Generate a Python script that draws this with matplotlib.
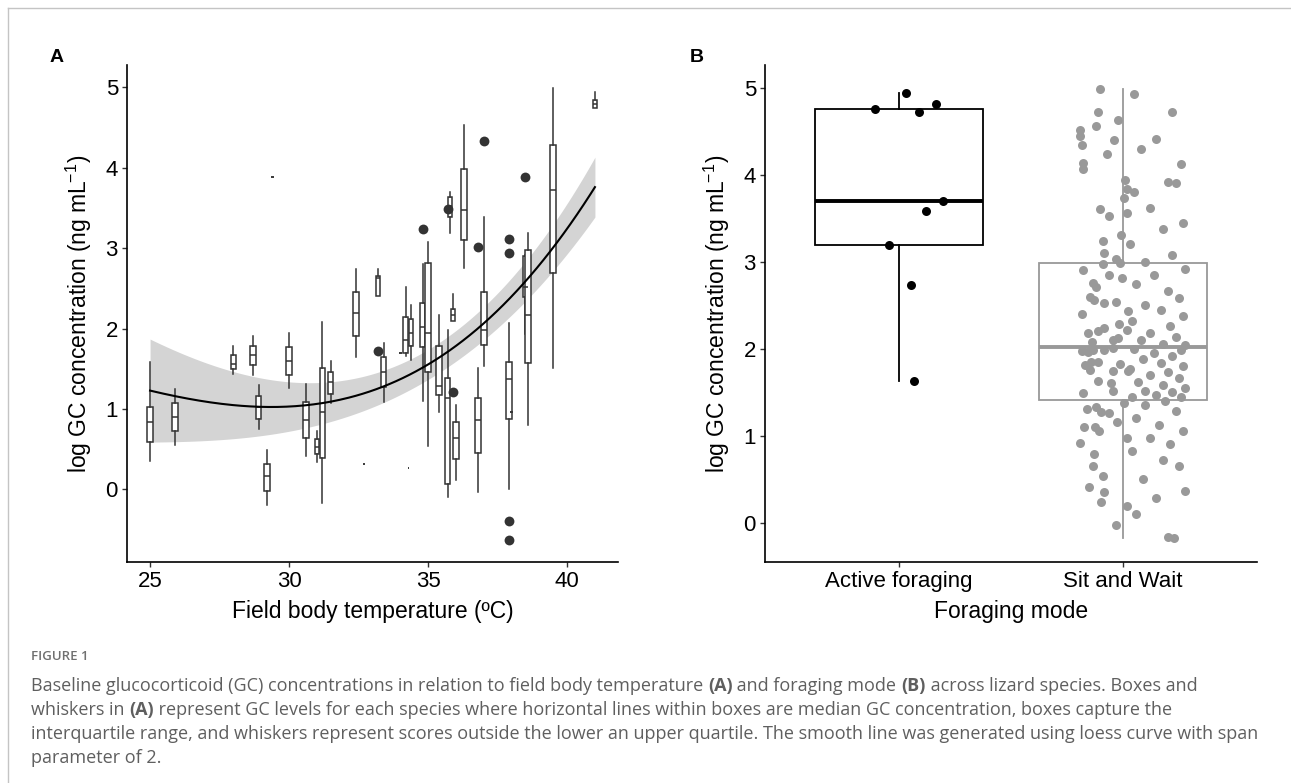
"""
Figure 1: GC concentration vs field body temperature (A) and foraging mode (B).
Output: out.png
"""
import numpy as np
import matplotlib
matplotlib.use("Agg")
import matplotlib.pyplot as plt
from matplotlib.lines import Line2D

plt.rcParams["font.family"] = ["Liberation Sans", "DejaVu Sans"]
plt.rcParams["mathtext.fontset"] = "custom"
plt.rcParams["mathtext.rm"] = "Liberation Sans"
plt.rcParams["mathtext.it"] = "Liberation Sans:italic"

# ---- panel A: one box per species ----
temp = [25.0, 25.9, 28.0, 28.7, 28.9, 29.2, 29.4, 30.0, 30.6, 31.0, 31.2, 31.5,
        32.4, 32.7, 33.2, 33.4, 34.0, 34.2, 34.3, 34.4, 34.8, 35.0, 35.4, 35.7,
        35.8, 35.9, 36.0, 36.3, 36.8, 37.0, 37.9, 38.0, 38.5, 38.6, 39.5, 41.0]
whis_lo = [0.35, 0.55, 1.44, 1.42, 0.75, -0.19, 3.88, 1.26, 0.41, 0.34, -0.17, 1.07,
           1.64, 0.31, 2.40, 1.09, 1.70, 1.66, 0.27, 1.61, 1.10, 0.54, 0.96, -0.10,
           3.19, 2.09, 0.12, 2.75, -0.04, 1.54, 0.00, 0.96, 1.93, 0.80, 1.51, 4.74]
q1 = [0.59, 0.73, 1.50, 1.55, 0.88, -0.02, 3.88, 1.42, 0.64, 0.44, 0.39, 1.19,
      1.91, 0.31, 2.40, 1.27, 1.70, 1.69, 0.27, 1.78, 1.77, 1.46, 1.17, 0.06,
      3.39, 2.09, 0.38, 3.10, 0.45, 1.80, 0.87, 0.96, 2.39, 1.57, 2.69, 4.74]
med = [0.84, 0.90, 1.56, 1.67, 1.03, 0.16, 3.88, 1.60, 0.86, 0.53, 0.96, 1.33,
       2.19, 0.31, 2.63, 1.46, 1.70, 1.86, 0.27, 1.95, 2.02, 1.94, 1.29, 1.13,
       3.52, 2.17, 0.64, 3.47, 0.86, 1.98, 1.37, 0.96, 2.52, 2.17, 3.72, 4.80]
q3 = [1.03, 1.07, 1.67, 1.78, 1.16, 0.32, 3.88, 1.77, 1.08, 0.63, 1.51, 1.46,
      2.46, 0.31, 2.65, 1.64, 1.70, 2.14, 0.27, 2.12, 2.32, 2.82, 1.78, 1.39,
      3.64, 2.24, 0.84, 3.99, 1.13, 2.45, 1.58, 0.96, 2.90, 2.98, 4.28, 4.85]
whis_hi = [1.58, 1.25, 1.78, 1.91, 1.30, 0.49, 3.88, 1.94, 1.31, 0.73, 2.08, 1.60,
           2.74, 0.31, 2.74, 1.82, 1.70, 2.52, 0.27, 2.29, 2.80, 3.08, 2.17, 1.98,
           3.70, 2.43, 1.05, 4.53, 1.51, 3.39, 2.07, 0.96, 2.92, 3.19, 4.99, 4.94]
box_w = [0.22, 0.20, 0.18, 0.20, 0.18, 0.20, 0.10, 0.20, 0.20, 0.16, 0.20, 0.18,
         0.20, 0.08, 0.17, 0.20, 0.10, 0.18, 0.06, 0.14, 0.20, 0.20, 0.20, 0.20,
         0.14, 0.13, 0.20, 0.20, 0.20, 0.22, 0.22, 0.08, 0.18, 0.20, 0.20, 0.12]

out_x = [33.2, 34.8, 35.7, 35.9, 37.0, 36.8, 37.9, 37.9, 37.9, 37.9, 38.5]
out_y = [1.72, 3.24, 3.49, 1.21, 4.34, 3.02, 3.12, 2.94, -0.40, -0.63, 3.88]

# loess smooth and its standard error, read at a few temperatures
fit_x = [25.0, 27.0, 29.3, 30.7, 31.5, 33.4, 34.0, 34.95, 35.67, 37.0, 37.8, 38.65, 39.55, 41.0]
fit_y = [1.22, 1.11, 1.02, 1.03, 1.09, 1.29, 1.38, 1.56, 1.69, 2.05, 2.30, 2.65, 3.08, 3.74]
se_x = [25.0, 26.3, 27.5, 29.9, 31.5, 33.9, 35.6, 37.0, 38.7, 41.0]
se_y = [0.65, 0.54, 0.43, 0.30, 0.25, 0.23, 0.19, 0.20, 0.22, 0.39]

# ---- panel B: jittered observations per foraging mode ----
modes = ["Active foraging", "Sit and Wait"]
active_gc = [4.75, 4.94, 4.72, 4.81, 3.70, 3.58, 3.19, 2.73, 1.63]
active_jit = [-0.107, 0.031, 0.089, 0.165, 0.197, 0.121, -0.045, 0.054, 0.067]
sit_gc = [4.99, 4.72, 4.56, 4.63, 4.51, 4.44, 4.34, 4.40, 4.24, 4.13, 4.07, 3.94,
          3.84, 3.73, 3.56, 3.60, 3.52, 3.31, 3.24, 3.10, 3.03, 2.99, 2.97, 2.90,
          2.85, 2.81, 2.76, 2.71, 2.60, 2.56, 2.52, 2.54, 2.43, 2.40, 2.29, 2.22,
          2.20, 2.24, 2.18, 2.10, 2.12, 2.08, 1.97, 1.96, 1.99, 1.99, 2.01, 1.81,
          1.85, 1.85, 1.76, 1.83, 1.74, 1.74, 1.63, 1.61, 1.51, 1.49, 1.38, 1.31,
          1.33, 1.27, 1.26, 1.16, 1.10, 1.10, 1.05, 0.92, 0.97, 0.79, 0.65, 0.54,
          0.41, 0.35, 0.24, 0.19, -0.03,
          4.93, 4.72, 4.41, 4.30, 4.12, 3.92, 3.90, 3.80, 3.62, 3.45, 3.38, 3.20,
          3.08, 3.00, 2.92, 2.85, 2.74, 2.66, 2.58, 2.50, 2.44, 2.38, 2.32, 2.26,
          2.18, 2.14, 2.10, 2.06, 2.04, 2.00, 1.98, 1.95, 1.92, 1.88, 1.84, 1.80,
          1.77, 1.73, 1.70, 1.66, 1.62, 1.58, 1.55, 1.52, 1.50, 1.47, 1.45, 1.44,
          1.40, 1.35, 1.28, 1.20, 1.12, 1.05, 0.98, 0.90, 0.82, 0.72, 0.65, 0.50,
          0.37, 0.28, 0.10, -0.16, -0.17]
sit_jit = [-0.101, -0.109, -0.119, -0.022, -0.191, -0.191, -0.183, -0.038, -0.069,
           -0.179, -0.176, 0.010, 0.018, 0.006, 0.018, -0.101, -0.064, -0.009,
           -0.089, -0.084, -0.030, -0.012, -0.087, -0.179, -0.064, -0.004, -0.134,
           -0.119, -0.146, -0.131, -0.084, -0.030, 0.025, -0.183, -0.015, 0.018,
           -0.109, -0.084, -0.154, -0.042, -0.020, -0.139, -0.183, -0.154, -0.134,
           -0.084, -0.042, -0.169, -0.143, -0.112, -0.146, -0.012, 0.025, -0.042,
           -0.109, -0.054, -0.045, -0.179, 0.006, -0.161, -0.119, -0.097, -0.060,
           -0.027, -0.173, -0.124, -0.106, -0.191, 0.018, -0.127, -0.134, -0.089,
           -0.151, -0.082, -0.096, 0.018, -0.030,
           0.05, 0.22, 0.15, 0.08, 0.26, 0.20, 0.24, 0.05, 0.12, 0.27, 0.18, 0.03,
           0.22, 0.10, 0.28, 0.14, 0.06, 0.20, 0.25, 0.10, 0.17, 0.27, 0.04, 0.21,
           0.12, 0.24, 0.08, 0.18, 0.28, 0.05, 0.26, 0.14, 0.22, 0.09, 0.17, 0.27,
           0.03, 0.20, 0.12, 0.25, 0.07, 0.18, 0.28, 0.10, 0.22, 0.15, 0.04, 0.26,
           0.19, 0.10, 0.24, 0.06, 0.16, 0.27, 0.12, 0.21, 0.04, 0.18, 0.25, 0.09,
           0.28, 0.15, 0.06, 0.20, 0.23]

DARK = "#333333"
SIT = "#999999"
YLAB = r"log GC concentration (ng m$\mathrm{L}^{\!\!-\!1}$)"

W, H = 1291, 783
fig = plt.figure(figsize=(W / 100, H / 100), dpi=100)
axA = fig.add_axes([127 / W, 1 - 562 / H, 491 / W, 497 / H])
axB = fig.add_axes([765 / W, 1 - 562 / H, 492 / W, 497 / H])

for ax in (axA, axB):
    ax.spines["top"].set_visible(False)
    ax.spines["right"].set_visible(False)
    for s in ("left", "bottom"):
        ax.spines[s].set_linewidth(1.2)
        ax.spines[s].set_color("black")
    ax.tick_params(axis="both", length=3.5, width=1.0, color=DARK,
                   labelsize=16, labelcolor="black", pad=3)

# ---- A ----
xs = np.linspace(25, 41, 200)
fit = np.polyval(np.polyfit(fit_x, fit_y, 3), xs)
se = np.polyval(np.polyfit(se_x, se_y, 3), xs)
axA.fill_between(xs, fit - se, fit + se, color="#d4d4d4", lw=0, zorder=1)

stats = [dict(med=m, q1=a, q3=b, whislo=lo, whishi=hi, fliers=[])
         for lo, a, m, b, hi in zip(whis_lo, q1, med, q3, whis_hi)]
axA.bxp(stats, positions=temp, widths=box_w, patch_artist=True,
        showfliers=False, showcaps=False, manage_ticks=False,
        boxprops=dict(facecolor="white", edgecolor=DARK, linewidth=1.1),
        whiskerprops=dict(color=DARK, linewidth=1.1),
        medianprops=dict(color=DARK, linewidth=1.1), zorder=2)
axA.scatter(out_x, out_y, s=50, color=DARK, lw=0, zorder=3)
axA.plot(xs, fit, color="black", lw=1.5, zorder=4)

axA.set_xlim(24.17, 41.83)
axA.set_ylim(-0.905, 5.28)
axA.set_xticks([25, 30, 35, 40])
axA.set_yticks([0, 1, 2, 3, 4, 5])
axA.set_xlabel("Field body temperature (ºC)", fontsize=16.5, labelpad=6)
axA.set_ylabel(YLAB, fontsize=16.5, labelpad=8)

# ---- B ----
bp = axB.boxplot([active_gc, sit_gc], positions=[1, 2], widths=0.75, whis=1.5,
                 showfliers=False, showcaps=False, patch_artist=True,
                 manage_ticks=False)
for i, col in enumerate(["black", SIT]):
    bp["boxes"][i].set(facecolor="white", edgecolor=col, linewidth=1.3)
    bp["medians"][i].set(color=col, linewidth=2.8)
    for w in bp["whiskers"][2 * i:2 * i + 2]:
        w.set(color=col, linewidth=1.3)
axB.scatter(1 + np.array(active_jit), active_gc, s=42, color="black", lw=0, zorder=3)
axB.scatter(2 + np.array(sit_jit), sit_gc, s=42, color=SIT, lw=0, zorder=3)

axB.set_xlim(0.4, 2.6)
axB.set_ylim(-0.45, 5.26)
axB.set_xticks([1, 2])
axB.set_xticklabels(modes)
axB.set_yticks([0, 1, 2, 3, 4, 5])
axB.set_xlabel("Foraging mode", fontsize=16.5, labelpad=6)
axB.set_ylabel(YLAB, fontsize=16.5, labelpad=8)

fig.text(57 / W, 1 - 58 / H, "A", fontsize=14, weight="bold", ha="center", va="center")
fig.text(697 / W, 1 - 58 / H, "B", fontsize=14, weight="bold", ha="center", va="center")

# frame lines of the journal page
fig.add_artist(Line2D([8 / W, 8 / W], [0, 1 - 8 / H], color="#c4c4c4", lw=1))
fig.add_artist(Line2D([8 / W, 1], [1 - 8 / H, 1 - 8 / H], color="#c4c4c4", lw=1))

# ---- caption ----
CAP = "#5f5f5f"
fig.text(31 / W, 1 - 657 / H, "FIGURE 1", fontsize=9.5, weight="semibold",
         color="#707070", family="Open Sans", va="center")

cap_lines = [
    [("Baseline glucocorticoid (GC) concentrations in relation to field body temperature ", "normal"),
     ("(A)", "bold"), (" and foraging mode ", "normal"), ("(B)", "bold"),
     (" across lizard species. Boxes and", "normal")],
    [("whiskers in ", "normal"), ("(A)", "bold"),
     (" represent GC levels for each species where horizontal lines within boxes are median GC concentration, boxes capture the", "normal")],
    [("interquartile range, and whiskers represent scores outside the lower an upper quartile. The smooth line was generated using loess curve with span", "normal")],
    [("parameter of 2.", "normal")],
]
cap_y = [686, 710, 734, 758]
renderer = fig.canvas.get_renderer()
for segs, yp in zip(cap_lines, cap_y):
    xp = 31
    for txt, wt in segs:
        t = fig.text(xp / W, 1 - yp / H, txt, fontsize=13.0, weight=wt,
                     color=CAP, family="Open Sans", va="center")
        xp += t.get_window_extent(renderer).width

fig.savefig("out.png", dpi=100)
